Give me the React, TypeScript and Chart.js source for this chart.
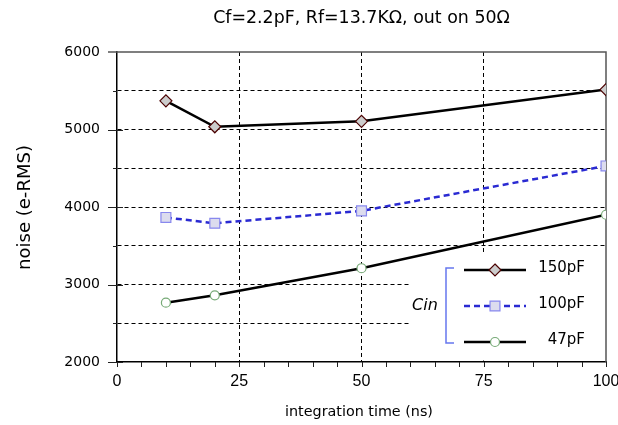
import React, { useEffect, useRef } from 'react';
import { Chart, registerables } from 'chart.js';

Chart.register(...registerables);

const xValues = [10, 20, 50, 100];
const noise150 = [5370, 5035, 5105, 5515];
const noise100 = [3865, 3790, 3950, 4530];
const noise47 = [2765, 2860, 3210, 3900];
const seriesLabels = ['150pF', '100pF', '47pF'];
const legendGroup = 'Cin';
const titleText = 'Cf=2.2pF, Rf=13.7KΩ, out on 50Ω';
const xTitle = 'integration time (ns)';
const yTitle = 'noise (e-RMS)';
const xRange = [0, 100];
const yRange = [2000, 6000];

const TITLE_FONT = '"DejaVu Sans", sans-serif';

function fitFont(ctx: CanvasRenderingContext2D, text: string, target: number, style = '') {
  ctx.font = `${style} 16px ${TITLE_FONT}`;
  const w = ctx.measureText(text).width;
  const s = (16 * target) / w;
  return `${style} ${s.toFixed(2)}px ${TITLE_FONT}`;
}

const decor = {
  id: 'decor',
  beforeDatasetsDraw(chart: any) {
    const { ctx, chartArea: a, scales } = chart;
    const x = scales.x;
    const y = scales.y;
    ctx.save();
    // legend background box
    ctx.fillStyle = '#ffffff';
    ctx.fillRect(410, 252, a.right - 410, a.bottom - 252 - 1.5);
    // top & right frame
    ctx.strokeStyle = '#555555';
    ctx.lineWidth = 1.5;
    ctx.beginPath();
    ctx.moveTo(a.left - 9, a.top);
    ctx.lineTo(a.right, a.top);
    ctx.lineTo(a.right, a.bottom);
    ctx.stroke();
    // y ticks
    ctx.strokeStyle = '#222222';
    ctx.lineWidth = 1;
    y.ticks.forEach((t: any) => {
      const py = Math.round(y.getPixelForValue(t.value)) + 0.5;
      const major = t.value % 1000 === 0;
      if (t.value === yRange[1]) return;
      ctx.beginPath();
      ctx.moveTo(a.left - (major ? 9 : 4), py);
      ctx.lineTo(a.left + (major ? 6 : 0), py);
      ctx.stroke();
    });
    // x ticks (minor every 5)
    for (let v = xRange[0]; v <= xRange[1]; v += 5) {
      const px = Math.round(x.getPixelForValue(v)) + 0.5;
      ctx.beginPath();
      ctx.moveTo(px, a.bottom);
      ctx.lineTo(px, a.bottom + 5);
      ctx.stroke();
    }
    ctx.restore();
  },
  afterDraw(chart: any) {
    const { ctx, chartArea: a } = chart;
    ctx.save();
    ctx.fillStyle = '#000000';
    ctx.textBaseline = 'middle';
    ctx.textAlign = 'center';
    // title
    ctx.font = fitFont(ctx, titleText, 297);
    ctx.fillText(titleText, 361.5, 18);
    // x title
    ctx.font = fitFont(ctx, xTitle, 148);
    ctx.fillText(xTitle, 359, 412);
    // y title
    ctx.save();
    ctx.translate(25, 207.5);
    ctx.rotate(-Math.PI / 2);
    ctx.font = fitFont(ctx, yTitle, 125);
    ctx.fillText(yTitle, 0, 0);
    ctx.restore();

    // legend
    const rows = [a.bottom - 92, a.bottom - 56, a.bottom - 20];
    const lx0 = 464, lx1 = 526, mx = 495;
    // bracket
    ctx.strokeStyle = '#6677ee';
    ctx.lineWidth = 1.5;
    ctx.beginPath();
    ctx.moveTo(454, rows[0] - 2);
    ctx.lineTo(446, rows[0] - 2);
    ctx.lineTo(446, rows[2] + 1);
    ctx.lineTo(454, rows[2] + 1);
    ctx.stroke();
    ctx.font = `italic 16px ${TITLE_FONT}`;
    ctx.fillStyle = '#000';
    ctx.fillText(legendGroup, 425, rows[1]);

    chart.data.datasets.forEach((ds: any, i: number) => {
      const yy = rows[i];
      ctx.save();
      ctx.strokeStyle = ds.borderColor;
      ctx.lineWidth = ds.borderWidth;
      ctx.setLineDash(ds.borderDash || []);
      ctx.beginPath();
      ctx.moveTo(lx0, yy);
      ctx.lineTo(lx1, yy);
      ctx.stroke();
      ctx.setLineDash([]);
      ctx.fillStyle = ds.pointBackgroundColor;
      ctx.strokeStyle = ds.pointBorderColor;
      ctx.lineWidth = ds.pointBorderWidth;
      const r = ds.pointRadius;
      ctx.beginPath();
      if (ds.pointStyle === 'rectRot') {
        ctx.moveTo(mx, yy - r);
        ctx.lineTo(mx + r, yy);
        ctx.lineTo(mx, yy + r);
        ctx.lineTo(mx - r, yy);
        ctx.closePath();
      } else if (ds.pointStyle === 'rect') {
        const s = r * Math.SQRT1_2;
        ctx.rect(mx - s, yy - s, 2 * s, 2 * s);
      } else {
        ctx.arc(mx, yy, r, 0, Math.PI * 2);
      }
      ctx.fill();
      ctx.stroke();
      ctx.restore();
      ctx.fillStyle = '#000';
      ctx.textAlign = 'right';
      ctx.font = `15px ${TITLE_FONT}`;
      ctx.fillText(ds.label, 585, yy - 2);
    });
    ctx.restore();
  },
};

export default function App() {
  const ref = useRef<HTMLCanvasElement>(null);
  useEffect(() => {
    if (!ref.current) return;
    const gridColor = (lo: number, hi: number) => (c: any) =>
      c.tick && c.tick.value > lo && c.tick.value < hi ? '#000000' : 'rgba(0,0,0,0)';
    const chart = new Chart(ref.current, {
      type: 'line',
      data: {
        datasets: [
          {
            label: seriesLabels[0],
            data: xValues.map((v, i) => ({ x: v, y: noise150[i] })),
            borderColor: '#000000',
            borderWidth: 2.5,
            pointStyle: 'rectRot',
            pointRadius: 6,
            pointBackgroundColor: '#cccccc',
            pointBorderColor: '#4a0000',
            pointBorderWidth: 1.2,
          },
          {
            label: seriesLabels[1],
            data: xValues.map((v, i) => ({ x: v, y: noise100[i] })),
            borderColor: '#2a2ad2',
            borderWidth: 2.5,
            borderDash: [6, 4],
            pointStyle: 'rect',
            pointRadius: 7,
            pointBackgroundColor: '#dcdcee',
            pointBorderColor: '#8888ee',
            pointBorderWidth: 1.2,
          },
          {
            label: seriesLabels[2],
            data: xValues.map((v, i) => ({ x: v, y: noise47[i] })),
            borderColor: '#000000',
            borderWidth: 2.5,
            pointStyle: 'circle',
            pointRadius: 4.5,
            pointBackgroundColor: '#ffffff',
            pointBorderColor: '#77aa77',
            pointBorderWidth: 1.2,
          },
        ] as any,
      },
      options: {
        animation: false,
        responsive: false,
        maintainAspectRatio: false,
        layout: { padding: { top: 52, right: 12, left: 0, bottom: 0 } },
        plugins: { legend: { display: false }, title: { display: false }, tooltip: { enabled: false } },
        elements: { line: { tension: 0 } },
        scales: {
          x: {
            type: 'linear',
            min: xRange[0],
            max: xRange[1],
            ticks: { stepSize: 25, color: '#000', padding: 10, font: { family: '"Liberation Sans"', size: 16 } },
            grid: { color: gridColor(xRange[0], xRange[1]), lineWidth: 1, drawTicks: false },
            border: { display: true, color: '#000', width: 1.5, dash: [4, 3] },
            afterFit(scale: any) {
              scale.height = 63;
              scale.paddingLeft = 0;
              scale.paddingRight = 0;
            },
          },
          y: {
            type: 'linear',
            min: yRange[0],
            max: yRange[1],
            ticks: {
              stepSize: 500,
              color: '#000',
              padding: 17,
              font: { family: '"DejaVu Sans"', size: 14 },
              callback: (v: any) => (Number(v) % 1000 === 0 ? String(v) : ''),
            },
            grid: { color: gridColor(yRange[0], yRange[1]), lineWidth: 1, drawTicks: false },
            border: { display: true, color: '#000', width: 1.5, dash: [4, 3] },
            afterFit(scale: any) {
              scale.width = 117;
              scale.paddingTop = 0;
              scale.paddingBottom = 0;
            },
          },
        },
      },
      plugins: [decor],
    } as any);
    return () => chart.destroy();
  }, []);
  return (
    <div style={{ position: 'absolute', left: 0, top: 0, width: 618, height: 425, background: '#fff' }}>
      <canvas ref={ref} width={618} height={425} style={{ display: 'block', width: 618, height: 425 }} />
    </div>
  );
}
